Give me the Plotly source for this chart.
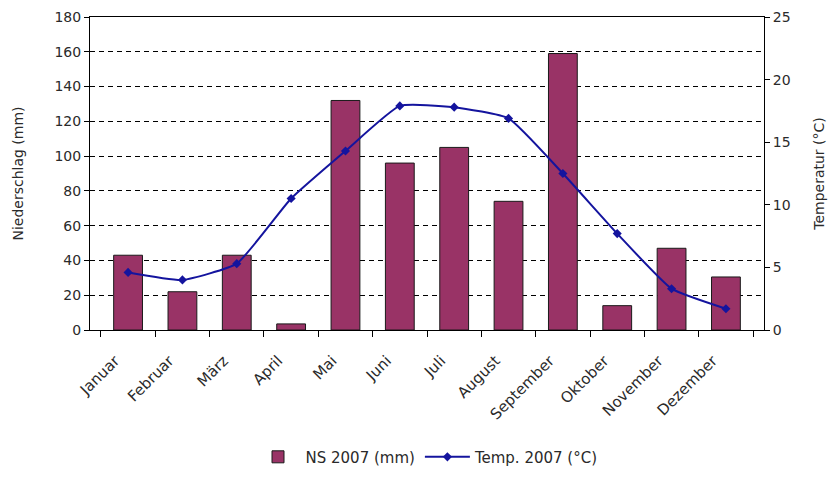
import plotly.graph_objects as go

months = ["Januar", "Februar", "März", "April", "Mai", "Juni", "Juli",
          "August", "September", "Oktober", "November", "Dezember"]
niederschlag_mm = [43, 22, 43, 3.5, 132, 96, 105, 74, 159, 14, 47, 30.5]
temperatur_c = [4.6, 4.0, 5.3, 10.5, 14.3, 17.9, 17.8, 16.9, 12.5, 7.7, 3.3, 1.7]

font_family = "DejaVu Sans, Liberation Sans, Arial, sans-serif"
text_color = "#2a2a2a"

fig = go.Figure()

fig.add_trace(go.Bar(
    x=months, y=niederschlag_mm, name="NS 2007 (mm)",
    marker=dict(color="#993366", line=dict(color="#1a1a1a", width=1)),
    width=0.53, yaxis="y",
))

fig.add_trace(go.Scatter(
    x=months, y=temperatur_c, name="Temp. 2007 (°C)",
    mode="lines+markers",
    line=dict(color="#14149e", width=2, shape="spline", smoothing=0.45),
    marker=dict(symbol="diamond", size=7, color="#14149e"),
    yaxis="y2",
))

fig.update_layout(
    width=831, height=486,
    margin=dict(l=90, r=67, t=17, b=154),
    paper_bgcolor="white", plot_bgcolor="white",
    font=dict(family=font_family, size=14, color=text_color),
    showlegend=True,
    legend=dict(orientation="h", x=0.5, xanchor="center", y=-0.406, yanchor="middle",
                font=dict(size=15), itemwidth=45, tracegroupgap=0),
    xaxis=dict(
        type="category", tickson="boundaries", tickangle=-45,
        ticks="outside", ticklen=6, tickcolor="black",
        showline=True, linecolor="black", linewidth=1, mirror=True,
        showgrid=False, tickfont=dict(size=15), automargin=False,
        ticklabelstandoff=15, ticklabelshift=-13,
    ),
    yaxis=dict(
        range=[0, 180], dtick=20, ticks="outside", ticklen=5, tickcolor="black",
        showline=True, linecolor="black", linewidth=1,
        showgrid=True, gridcolor="black", gridwidth=1, griddash="5px,4px",
        zeroline=False, automargin=False,
        title=dict(text="Niederschlag (mm)", font=dict(size=14), standoff=27),
        tickfont=dict(size=14),
    ),
    yaxis2=dict(
        range=[0, 25], dtick=5, overlaying="y", side="right",
        ticks="outside", ticklen=5, tickcolor="black",
        showline=True, linecolor="black", linewidth=1,
        showgrid=False, zeroline=False, automargin=False,
        title=dict(text="Temperatur (°C)", font=dict(size=14), standoff=24),
        tickfont=dict(size=14),
    ),
)

fig.write_html("out.html")
